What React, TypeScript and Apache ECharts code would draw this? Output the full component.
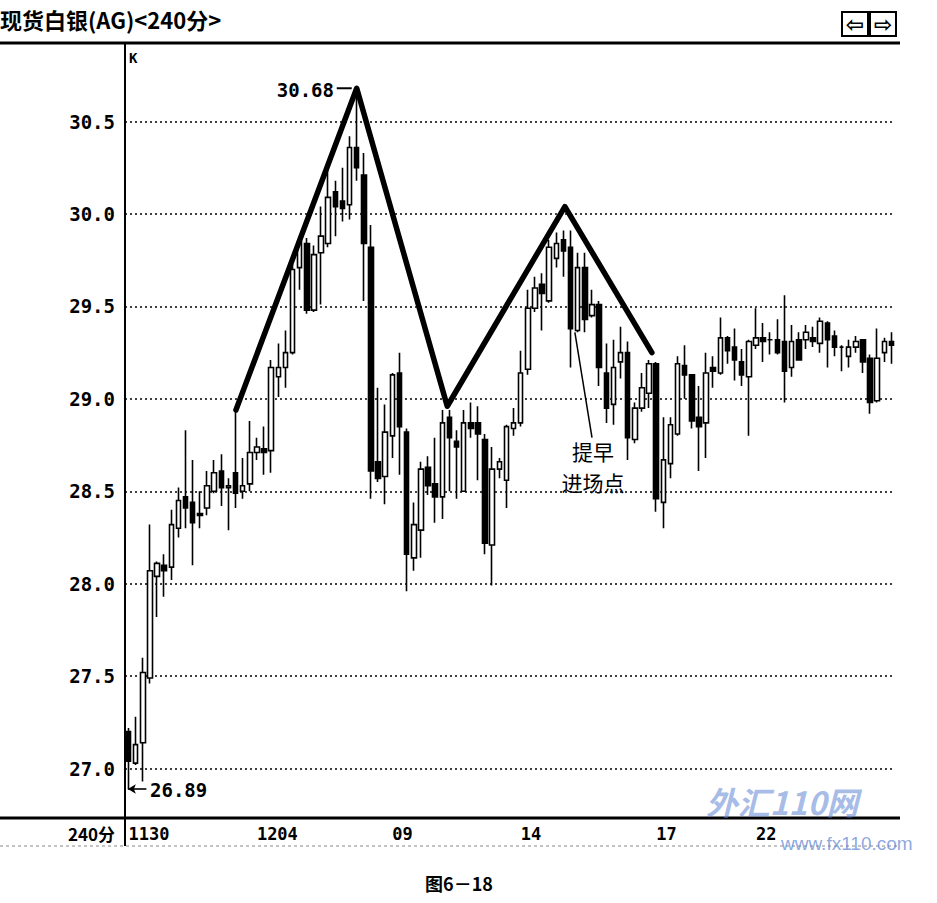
import React, { useEffect, useRef } from 'react';
import * as echarts from 'echarts';

// ---- Data ----
const opens = [
  27.20, 27.03, 27.14, 27.49, 28.04, 28.10, 28.09, 28.30, 28.47, 28.44,
  28.38, 28.41, 28.50, 28.61, 28.52, 28.60, 28.50, 28.54, 28.71, 28.73,
  28.72, 29.12, 29.17, 29.25, 29.71, 29.84, 29.48, 29.79, 29.84, 30.12,
  30.07, 30.05, 30.36, 30.21, 29.82, 28.66, 28.58, 28.80, 29.14, 28.82,
  28.14, 28.29, 28.63, 28.54, 28.47, 28.90, 28.77, 28.50, 28.87, 28.87,
  28.78, 28.21, 28.62, 28.56, 28.84, 28.87, 29.16, 29.49, 29.62, 29.53,
  29.76, 29.86, 29.82, 29.37, 29.71, 29.45, 29.51, 29.14, 28.97, 29.20,
  29.25, 28.78, 28.95, 29.03, 29.19, 28.44, 28.65, 28.81, 29.18, 29.13,
  28.90, 28.87, 29.17, 29.14, 29.33, 29.28, 29.20, 29.12, 29.29, 29.33,
  29.32, 29.32, 29.31, 29.17, 29.32, 29.32, 29.33, 29.30, 29.41, 29.34,
  29.28, 29.23, 29.28, 29.32, 29.22, 28.99, 29.25, 29.31
];
const closes = [
  27.04, 27.13, 27.52, 28.07, 28.11, 28.07, 28.32, 28.45, 28.41, 28.33,
  28.37, 28.53, 28.60, 28.52, 28.53, 28.49, 28.53, 28.71, 28.74, 28.71,
  29.17, 29.17, 29.25, 29.70, 29.85, 29.48, 29.78, 29.88, 30.09, 30.04,
  30.03, 30.36, 30.25, 29.84, 28.61, 28.57, 28.82, 29.13, 28.85, 28.16,
  28.32, 28.62, 28.53, 28.47, 28.87, 28.79, 28.74, 28.87, 28.84, 28.81,
  28.22, 28.62, 28.66, 28.85, 28.87, 29.14, 29.49, 29.60, 29.57, 29.82,
  29.84, 29.80, 29.38, 29.71, 29.43, 29.51, 29.17, 28.95, 29.17, 29.25,
  28.79, 28.95, 29.06, 29.19, 28.46, 28.67, 28.86, 29.19, 29.13, 28.88,
  28.85, 29.14, 29.15, 29.33, 29.26, 29.21, 29.13, 29.31, 29.33, 29.31,
  29.32, 29.25, 29.15, 29.31, 29.21, 29.36, 29.31, 29.42, 29.32, 29.28,
  29.28, 29.28, 29.31, 29.20, 28.98, 29.22, 29.31, 29.29
];
const lows = [
  26.89, 27.02, 26.93, 27.46, 27.82, 27.93, 28.02, 28.25, 28.30, 28.10,
  28.30, 28.37, 28.49, 28.42, 28.29, 28.41, 28.46, 28.50, 28.67, 28.59,
  28.60, 29.01, 29.06, 29.24, 29.59, 29.46, 29.47, 29.51, 29.82, 29.88,
  29.96, 29.97, 30.18, 29.53, 28.46, 28.55, 28.43, 28.68, 28.59, 27.96,
  28.07, 28.14, 28.48, 28.33, 28.35, 28.50, 28.46, 28.50, 28.79, 28.56,
  28.16, 27.99, 28.57, 28.41, 28.80, 28.85, 29.13, 29.47, 29.37, 29.52,
  29.71, 29.66, 29.17, 29.36, 29.36, 29.44, 29.07, 28.87, 28.86, 29.11,
  28.67, 28.76, 28.93, 28.95, 28.39, 28.30, 28.57, 28.80, 29.00, 28.84,
  28.61, 28.68, 29.06, 29.13, 29.19, 29.10, 29.07, 28.80, 29.27, 29.20,
  29.24, 29.24, 28.98, 29.12, 29.21, 29.27, 29.28, 29.25, 29.17, 29.23,
  29.15, 29.17, 29.25, 29.14, 28.92, 28.98, 29.20, 29.19
];
const highs = [
  27.22, 27.28, 27.60, 28.32, 28.12, 28.16, 28.40, 28.52, 28.83, 28.67,
  28.50, 28.61, 28.67, 28.70, 28.57, 28.93, 28.68, 28.88, 28.79, 28.85,
  29.21, 29.30, 29.37, 29.73, 29.88, 29.87, 29.83, 30.04, 30.25, 30.18,
  30.25, 30.42, 30.68, 30.33, 29.94, 29.06, 28.97, 29.14, 29.25, 28.84,
  28.44, 28.66, 28.69, 28.79, 28.94, 28.94, 28.83, 28.94, 28.98, 28.96,
  28.81, 28.74, 28.68, 28.86, 28.95, 29.26, 29.59, 29.66, 29.68, 29.86,
  29.90, 29.91, 29.91, 29.79, 29.79, 29.59, 29.53, 29.30, 29.32, 29.39,
  29.31, 28.98, 29.14, 29.21, 29.20, 28.90, 28.90, 29.23, 29.29, 29.13,
  29.07, 29.25, 29.23, 29.44, 29.34, 29.38, 29.27, 29.32, 29.49, 29.41,
  29.36, 29.43, 29.56, 29.40, 29.36, 29.40, 29.39, 29.44, 29.42, 29.37,
  29.29, 29.32, 29.34, 29.32, 29.24, 29.38, 29.33, 29.36
];

const tickIndex = [0, 18, 37, 55, 74, 88];
const tickLabels = ['1130', '1204', '09', '14', '17', '22'];
const yTicks = [27.0, 27.5, 28.0, 28.5, 29.0, 29.5, 30.0, 30.5];

// drawn trend lines (M top shape) : x in candle index, y in price
const trendIdx = [15.06, 32, 44.7, 61.2, 73.4];
const trendVal = [28.94, 30.68, 28.96, 30.04, 29.25];
// pointer line to "提早进场点"
const pointerIdx = [62.6, 65.0];
const pointerVal = [29.36, 28.79];
// peak and low markers
const peakLabel = '30.68';
const peakIdx = [29.2, 31.3];
const peakVal = 30.68;
const lowLabel = '26.89';
const lowIdx = [-0.1, 2.5];
const lowVal = 26.89;

const Y_MIN = 26.733;
const Y_MAX = 30.914;

const MONO = '"DejaVu Sans Mono", "Liberation Mono", monospace';
const CJK = '"Noto Sans CJK SC", "Noto Sans", sans-serif';

export default function App() {
  const ref = useRef<HTMLDivElement>(null);

  useEffect(() => {
    if (!ref.current) return;
    const chart = echarts.init(ref.current, undefined, { renderer: 'svg' });

    const categories = opens.map((_, i) => String(i));
    const labelMap: Record<number, string> = {};
    tickIndex.forEach((idx, k) => (labelMap[idx] = tickLabels[k]));
    const candleData = opens.map((o, i) => [o, closes[i], lows[i], highs[i]]);

    const option: any = {
      animation: false,
      backgroundColor: '#fff',
      grid: { left: 125, right: 42, top: 45, bottom: 85, containLabel: false },
      xAxis: [
        {
          type: 'category',
          data: categories,
          boundaryGap: true,
          axisLine: { show: false },
          axisTick: { show: false },
          splitLine: { show: false },
          axisLabel: {
            interval: 0,
            align: 'left',
            verticalAlign: 'top',
            margin: 7,
            color: '#000',
            fontFamily: MONO,
            fontWeight: 'bold',
            fontSize: 17,
            formatter: (_v: string, i: number) => labelMap[i] || '',
          },
        },
        {
          type: 'value',
          min: -0.5,
          max: opens.length - 0.5,
          show: false,
        },
      ],
      yAxis: {
        type: 'value',
        min: Y_MIN,
        max: Y_MAX,
        axisLine: { show: false },
        axisTick: { show: false },
        axisLabel: { show: false },
        splitLine: { show: false },
      },
      series: [
        {
          type: 'candlestick',
          xAxisIndex: 0,
          data: candleData,
          barWidth: 5,
          itemStyle: {
            color: '#fff',
            color0: '#000',
            borderColor: '#000',
            borderColor0: '#000',
            borderColorDoji: '#000',
            borderWidth: 1.6,
          },
          markLine: {
            silent: true,
            symbol: 'none',
            animation: false,
            z: 1,
            lineStyle: { type: [2, 3], color: '#000', width: 1.6 },
            label: {
              show: true,
              position: 'start',
              distance: 10,
              color: '#000',
              fontFamily: MONO,
              fontWeight: 'bold',
              fontSize: 19,
              formatter: (p: any) => Number(p.value).toFixed(1),
            },
            data: yTicks.map((v) => ({ yAxis: v })),
          },
        },
        {
          type: 'line',
          xAxisIndex: 1,
          data: trendIdx.map((x, i) => [x, trendVal[i]]),
          symbol: 'none',
          lineStyle: { color: '#000', width: 5.5, join: 'round', cap: 'round' } as any,
          z: 5,
        },
        {
          type: 'line',
          xAxisIndex: 1,
          data: pointerIdx.map((x, i) => [x, pointerVal[i]]),
          symbol: 'none',
          lineStyle: { color: '#000', width: 1.5 },
          z: 5,
        },
        {
          type: 'line',
          xAxisIndex: 1,
          data: peakIdx.map((x) => [x, peakVal]),
          symbol: 'none',
          lineStyle: { color: '#000', width: 2 },
          z: 5,
        },
        {
          type: 'line',
          xAxisIndex: 1,
          data: [],
          symbol: 'none',
          markLine: {
            silent: true,
            animation: false,
            symbol: ['arrow', 'none'],
            symbolSize: [7, 8],
            lineStyle: { color: '#000', width: 1.6, type: 'solid' },
            label: { show: false },
            data: [[{ coord: [lowIdx[0], lowVal] }, { coord: [lowIdx[1], lowVal] }]],
          },
        },
      ],
      graphic: [
        {
          type: 'text',
          left: 0,
          top: 8,
          style: {
            text: '现货白银(AG)<240分>',
            fill: '#000',
            font: `bold 22px ${CJK}`,
          },
        },
        { type: 'line', shape: { x1: 0, y1: 43, x2: 900, y2: 43 }, style: { stroke: '#000', lineWidth: 3 } },
        { type: 'line', shape: { x1: 0, y1: 818, x2: 900, y2: 818 }, style: { stroke: '#000', lineWidth: 3 } },
        { type: 'line', shape: { x1: 125, y1: 43, x2: 125, y2: 846 }, style: { stroke: '#000', lineWidth: 2 } },
        { type: 'line', shape: { x1: 0, y1: 846, x2: 900, y2: 846 }, style: { stroke: '#888', lineWidth: 1, lineDash: [3, 3] } },
        { type: 'text', x: 129, y: 51, style: { text: 'K', fill: '#000', font: `bold 14px ${MONO}` } },
        {
          type: 'text', x: 115, y: 833,
          style: { text: '240分', fill: '#000', font: `bold 17px ${CJK}`, align: 'right', verticalAlign: 'middle' },
        },
        { type: 'rect', shape: { x: 842, y: 12, width: 26, height: 24 }, style: { fill: '#fff', stroke: '#000', lineWidth: 2 } },
        { type: 'rect', shape: { x: 870, y: 12, width: 26, height: 24 }, style: { fill: '#fff', stroke: '#000', lineWidth: 2 } },
        { type: 'text', x: 855, y: 24, style: { text: '⇦', fill: '#000', font: `bold 22px "DejaVu Sans"`, align: 'center', verticalAlign: 'middle' } },
        { type: 'text', x: 883, y: 24, style: { text: '⇨', fill: '#000', font: `bold 22px "DejaVu Sans"`, align: 'center', verticalAlign: 'middle' } },
        {
          type: 'text', x: 334, y: 90,
          style: { text: peakLabel, fill: '#000', font: `bold 19px ${MONO}`, align: 'right', verticalAlign: 'middle' },
          z: 10,
        },
        {
          type: 'text', x: 150, y: 790,
          style: { text: lowLabel, fill: '#000', font: `bold 19px ${MONO}`, align: 'left', verticalAlign: 'middle' },
          z: 10,
        },
        {
          type: 'text', x: 593, y: 451,
          style: { text: '提早', fill: '#000', font: `21px ${CJK}`, align: 'center', verticalAlign: 'middle' },
          z: 10,
        },
        {
          type: 'text', x: 593, y: 482,
          style: { text: '进场点', fill: '#000', font: `21px ${CJK}`, align: 'center', verticalAlign: 'middle' },
          z: 10,
        },
        {
          type: 'text', x: 782, y: 801,
          style: { text: '外汇110网', fill: 'rgba(90,130,210,0.55)', font: `italic bold 32px ${CJK}`, align: 'center', verticalAlign: 'middle' },
          z: 10,
        },
        {
          type: 'text', x: 781, y: 843,
          style: { text: 'www.fx110.com', fill: 'rgba(90,130,210,0.7)', font: `19px "Liberation Sans", sans-serif`, align: 'left', verticalAlign: 'middle' },
          z: 10,
        },
        {
          type: 'text', x: 459, y: 883,
          style: { text: '图6－18', fill: '#000', font: `bold 18px ${CJK}`, align: 'center', verticalAlign: 'middle' },
        },
      ],
    };

    chart.setOption(option);
    return () => chart.dispose();
  }, []);

  return (
    <div
      ref={ref}
      style={{ position: 'absolute', left: 0, top: 0, width: 937, height: 903, background: '#fff' }}
    />
  );
}
